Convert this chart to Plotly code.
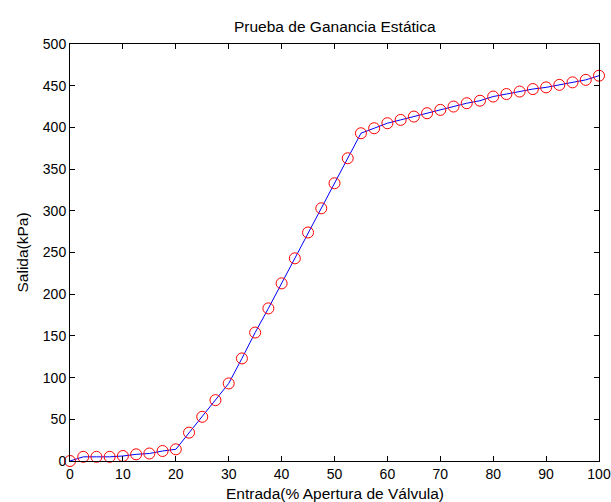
import plotly.graph_objects as go

entrada = [0, 2.5, 5, 7.5, 10, 12.5, 15, 17.5, 20, 22.5, 25, 27.5, 30, 32.5, 35, 37.5,
           40, 42.5, 45, 47.5, 50, 52.5, 55, 57.5, 60, 62.5, 65, 67.5, 70, 72.5, 75,
           77.5, 80, 82.5, 85, 87.5, 90, 92.5, 95, 97.5, 100]
salida = [0, 5, 5, 5, 6, 8, 9, 12, 14, 34, 53, 73, 93, 123, 154, 183,
          213, 243, 274, 303, 333, 363, 393, 399, 405, 409, 413, 417, 421, 425, 429,
          432, 437, 440, 443, 446, 448, 451, 454, 457, 462]
x_ticks = [0, 10, 20, 30, 40, 50, 60, 70, 80, 90, 100]
y_ticks = [0, 50, 100, 150, 200, 250, 300, 350, 400, 450, 500]

font = "Liberation Sans, Arial, sans-serif"
W, H = 611, 502
L, R, T, B = 70, 12, 44, 41

fig = go.Figure()
fig.add_trace(go.Scatter(x=entrada, y=salida, mode="lines",
                         line=dict(color="blue", width=1), showlegend=False,
                         hoverinfo="skip", cliponaxis=False))
fig.add_trace(go.Scatter(x=entrada, y=salida, mode="markers",
                         marker=dict(symbol="circle-open", size=11, color="red",
                                     line=dict(width=1, color="red")),
                         showlegend=False, cliponaxis=False))

axis_common = dict(showgrid=False, zeroline=False, showline=True, linecolor="black",
                   linewidth=1, mirror="ticks", ticks="inside", ticklen=5,
                   tickcolor="black", automargin=False,
                   tickfont=dict(family=font, size=14, color="black"))

fig.update_layout(
    width=W, height=H,
    margin=dict(l=L, r=R, t=T, b=B, autoexpand=False),
    paper_bgcolor="white", plot_bgcolor="white",
    xaxis=dict(range=[0, 100], tickvals=x_ticks, **axis_common),
    yaxis=dict(range=[0, 500], tickvals=y_ticks, **axis_common),
)

tfont = dict(family=font, size=15.5, color="black")
fig.add_annotation(text="Prueba de Ganancia Estática", xref="paper", yref="paper",
                   x=0.5, y=1, yshift=18, xanchor="center", yanchor="middle",
                   showarrow=False, font=tfont)
fig.add_annotation(text="Entrada(% Apertura de Válvula)", xref="paper", yref="paper",
                   x=0.5, y=0, yshift=-32, xanchor="center", yanchor="middle",
                   showarrow=False, font=tfont)
fig.add_annotation(text="Salida(kPa)", xref="paper", yref="paper",
                   x=0, y=0.5, xshift=-48, xanchor="center", yanchor="middle",
                   textangle=-90, showarrow=False, font=tfont)

fig.write_html("out.html", config={"displayModeBar": False},
               post_script="document.body.style.margin='0px';document.body.style.overflow='hidden';")
